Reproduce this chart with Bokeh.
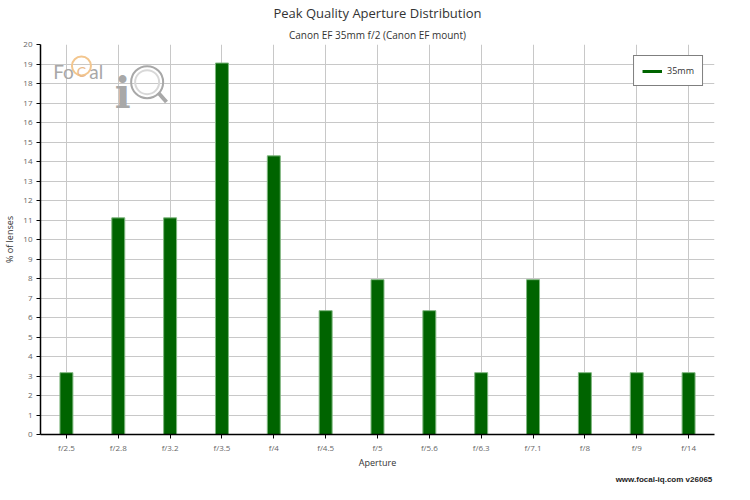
from bokeh.plotting import figure
from bokeh.models import (FactorRange, Range1d, FixedTicker, Label, Legend, LegendItem,
                          ColumnDataSource, Title)
from bokeh.embed import file_html
from bokeh.resources import INLINE

apertures = ["f/2.5", "f/2.8", "f/3.2", "f/3.5", "f/4", "f/4.5", "f/5", "f/5.6",
             "f/6.3", "f/7.1", "f/8", "f/9", "f/14"]
pct_35mm = [3.17, 11.11, 11.11, 19.05, 14.29, 6.35, 7.94, 6.35, 3.17, 7.94, 3.17, 3.17, 3.17]
y_ticks = list(range(0, 21))
series_name = "35mm"
title_text = "Peak Quality Aperture Distribution"
subtitle_text = "Canon EF 35mm f/2 (Canon EF mount)"
footer_text = "www.focal-iq.com  v26065"

FONT = "Open Sans"
GREEN = "#006400"

p = figure(width=734, height=484, x_range=FactorRange(*apertures, range_padding=0),
           y_range=Range1d(0, 20), output_backend="svg", toolbar_location=None,
           min_border_left=31, min_border_right=20, min_border_top=0, min_border_bottom=0)
p.outline_line_color = None

src = ColumnDataSource(dict(x=apertures, top=pct_35mm))
p.vbar(x="x", top="top", width=0.25, source=src, fill_color=GREEN,
       line_color="#7fb77f", line_width=1)

# grid
p.xgrid.grid_line_color = "#c8c8c8"
p.ygrid.grid_line_color = "#c8c8c8"
p.ygrid.ticker = FixedTicker(ticks=y_ticks)

# axes
p.yaxis.ticker = FixedTicker(ticks=y_ticks)
for ax in (p.xaxis[0], p.yaxis[0]):
    ax.axis_line_color = "black"
    ax.axis_line_width = 1.5
    ax.major_tick_line_color = "black"
    ax.major_tick_in = 0
    ax.major_tick_out = 4
    ax.minor_tick_line_color = None
    ax.major_label_text_font = FONT
    ax.major_label_text_font_size = "8px"
    ax.major_label_text_color = "#666666"
    ax.axis_label_text_font = FONT
    ax.axis_label_text_font_size = "9px"
    ax.axis_label_text_font_style = "normal"
    ax.axis_label_text_color = "#333333"
p.xaxis.axis_label = "Aperture"
p.yaxis.axis_label = "% of lenses"
p.xaxis.major_label_standoff = 3
p.yaxis.major_label_standoff = 4
p.xaxis.axis_label_standoff = 0
p.yaxis.axis_label_standoff = 4

# legend with line glyph (line itself lies outside the visible range)
lr = p.line(x=[0.5, 1.5], y=[-10, -10], line_color=GREEN, line_width=3)
legend = Legend(items=[LegendItem(label=series_name, renderers=[lr])],
                location="top_right", border_line_color="black", border_line_width=1,
                label_text_font=FONT, label_text_font_size="9px", label_text_color="#333333",
                glyph_width=20, glyph_height=10, padding=8, margin=11,
                label_standoff=5, background_fill_alpha=1)
p.add_layout(legend)

# titles (closest to plot first)
p.add_layout(Title(text=subtitle_text, align="center", text_font=FONT, text_font_size="10px",
                   text_font_style="normal", text_color="#333333", standoff=6), "above")
p.add_layout(Title(text=title_text, align="center", text_font=FONT, text_font_size="13px",
                   text_font_style="normal", text_color="#333333", standoff=2), "above")

# footer
p.add_layout(Title(text=footer_text, align="right", vertical_align="bottom",
                   text_font="Liberation Sans", text_font_size="8px", text_font_style="bold",
                   text_color="#222222", standoff=2), "below")

# watermark logo
p.add_layout(Label(x=0.245, y=18.6, text="Fo", text_font="Lato", text_font_size="19px",
                   text_color="#a8a8a8", text_baseline="alphabetic"))
p.scatter(x=[0.79], y=[18.9], size=19, marker="circle", fill_color=None,
          line_color="#f3c68e", line_width=2)
p.add_layout(Label(x=0.79, y=18.6, text="C", text_font="Lato", text_font_size="14px",
                   text_color="#e9b98a", text_align="center", text_baseline="alphabetic"))
p.add_layout(Label(x=0.94, y=18.6, text="al", text_font="Lato", text_font_size="19px",
                   text_color="#a8a8a8", text_baseline="alphabetic"))
p.add_layout(Label(x=1.585, y=17.5, text="i", text_font="DejaVu Serif", text_font_size="42px",
                   text_font_style="bold", text_color="#a8a8a8", text_align="center",
                   text_baseline="alphabetic"))
p.scatter(x=[2.057], y=[18.07], size=32, marker="circle", fill_color=None,
          line_color="#a8a8a8", line_width=2)
p.scatter(x=[2.057], y=[18.07], size=24, marker="circle", fill_color=None,
          line_color="#d8d8d8", line_width=2)
p.line(x=[2.28, 2.43], y=[17.5, 17.05], line_color="#a8a8a8", line_width=4)

open("out.html", "w").write(file_html(p, INLINE))
